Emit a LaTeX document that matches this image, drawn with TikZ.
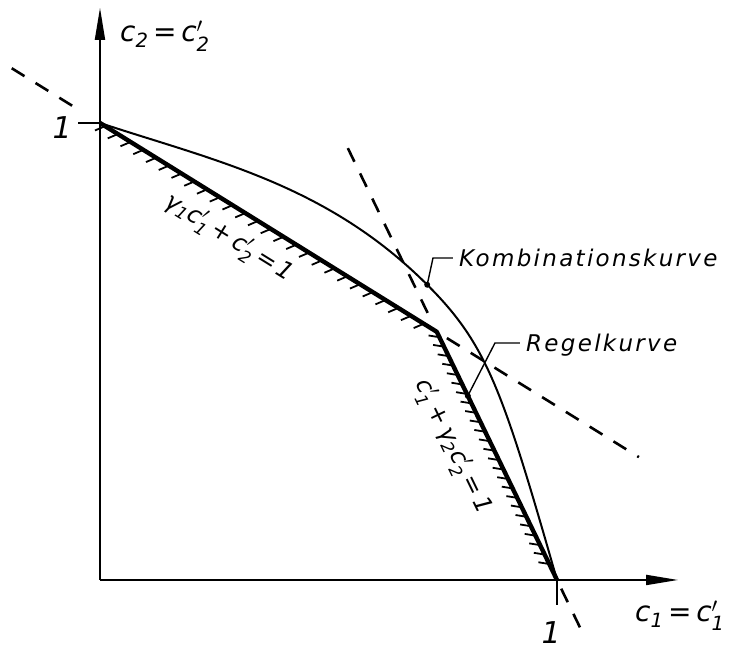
\documentclass[tikz,border=0pt]{standalone}
\usepackage{amsmath}
\usepackage{fontspec}
\newfontfamily\labfont[LetterSpace=10]{DejaVu Sans}
\newfontfamily\formfont{DejaVu Sans}
\usetikzlibrary{arrows.meta,decorations.pathreplacing,calc}
\newcommand\cpr[1]{c$^{\prime}_{\text{#1}}$}
\newcommand\csub[1]{c$_{\text{#1}}$}
\tikzset{
  axisline/.style={line width=1.8pt, -{Triangle[length=32pt,width=10pt]}},
  tickl/.style={line width=1.8pt},
  rulepath/.style={line width=4.4pt, line join=round},
  hatch/.style={decorate, line width=1.8pt,
                decoration={border, segment length=#1, amplitude=11pt,
                            angle=-125, pre length=6pt, post length=2pt}},
  curve/.style={line width=2pt},
  ext/.style={line width=2.6pt, dash pattern=on 15pt off 13pt},
  leader/.style={line width=1.4pt},
  dot/.style={circle, fill, inner sep=0pt, minimum size=6pt},
  lab/.style={font=\labfont\itshape\fontsize{23}{26}\selectfont,
              text depth=0pt, inner xsep=6pt, inner ysep=2pt},
  form/.style={font=\formfont\itshape\fontsize{24}{28}\selectfont},
  axlab/.style={font=\formfont\itshape\fontsize{28}{32}\selectfont},
  num/.style={font=\formfont\itshape\fontsize{30}{34}\selectfont},
}
\begin{document}
\begin{tikzpicture}[x=457pt, y=457pt]
\useasboundingbox (-0.2188,-0.1554) rectangle (1.3764,1.2691);

\coordinate (O) at (0,0);
\coordinate (Y1) at (0,1);
\coordinate (X1) at (1,0);
\coordinate (K) at (0.737,0.543);
\coordinate (ytip) at (0,1.252);
\coordinate (xtip) at (1.265,0);
\coordinate (ytick) at (-0.048,1);
\coordinate (xtick) at (1,-0.055);

% axes
\draw[axisline] (O) -- (ytip);
\draw[axisline] (O) -- (xtip);
\draw[tickl] (Y1) -- (ytick);
\draw[tickl] (X1) -- (xtick);
\node[num] (one1) at (-0.083,0.989) {1};
\node[num] (one2) at (0.987,-0.116) {1};
\node[axlab] (ylab) at (0.142,1.190) {\csub{2}\,=\,\cpr{2}};
\node[axlab] (xlab) at (1.269,-0.079) {\csub{1}\,=\,\cpr{1}};

% extended straight lines
\draw[ext] ($(Y1)!-0.262!(K)$) -- ($(Y1)!-0.053!(K)$);
\draw[ext] ($(Y1)!1.03!(K)$) -- ($(Y1)!1.60!(K)$);
\draw[ext] ($(K)!-0.74!(X1)$) -- ($(K)!-0.04!(X1)$);
\draw[ext] ($(K)!1.035!(X1)$) -- ($(K)!1.22!(X1)$);

% Kombinationskurve
\coordinate (kpt) at (0.716,0.646);
\draw[curve] (Y1) .. controls (0.25,0.9175) and (0.496,0.866) .. (kpt)
  .. controls (0.846,0.516) and (0.88,0.42) .. (X1);

% Regelkurve
\draw[rulepath] (Y1) -- (K) -- (X1);
\draw[hatch=15pt] (Y1) -- (K);
\draw[hatch=10.5pt] (K) -- (X1);

\path (Y1) -- (K) node[form, sloped, pos=0.43, below=14pt] (g1)
  {γ$_{\text{1}}$\cpr{1}\,+\,\cpr{2}\,=\,1};
\path (K) -- (X1) node[form, sloped, pos=0.40, below=20pt] (g2)
  {\cpr{1}\,+\,γ$_{\text{2}}$\cpr{2}\,=\,1};

\node[dot] (kdot) at (kpt) {};
\node[dot] (rdot) at ($(K)!0.258!(X1)$) {};
\coordinate (kbend) at (0.7287,0.7046);
\coordinate (rbend) at (0.8643,0.5186);
\node[lab, anchor=west] (klab) at (0.7724,0.7046) {Kombinationskurve};
\node[lab, anchor=west] (rlab) at (0.9190,0.5186) {Regelkurve};
\draw[leader] (kdot.center) -- (kbend) -- (klab.west);
\draw[leader] (rdot.center) -- (rbend) -- (rlab.west);

\end{tikzpicture}
\end{document}
